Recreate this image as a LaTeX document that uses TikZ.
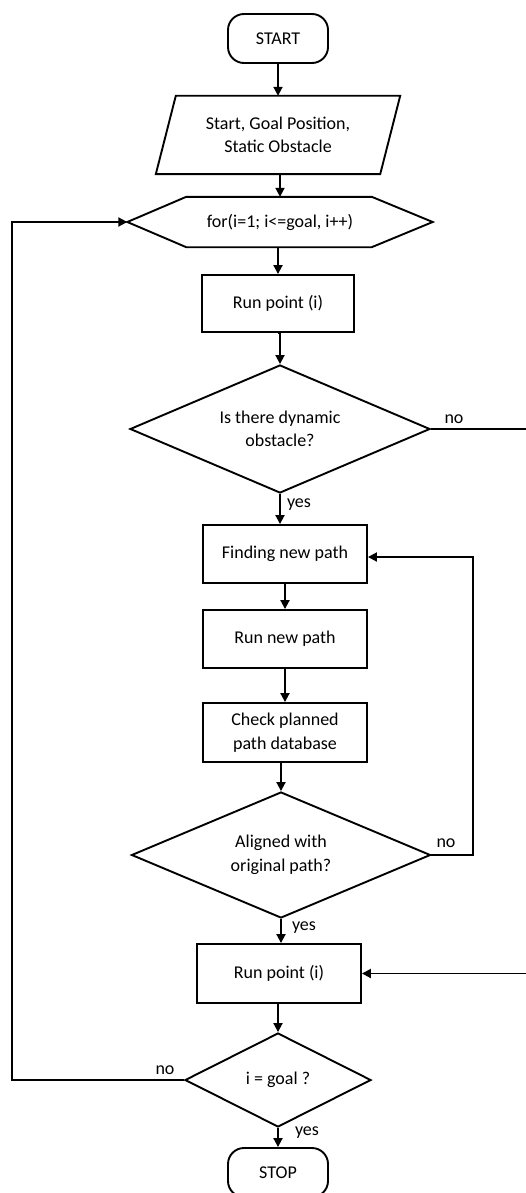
\documentclass[tikz,border=0pt]{standalone}
\usepackage{fontspec}
\setmainfont{Carlito}
\usetikzlibrary{arrows.meta,shapes.geometric}
\begin{document}
\begin{tikzpicture}[x=1pt,y=-1pt,
  every node/.style={font=\fontsize{18}{23.5}\selectfont, align=center, inner sep=0pt},
  ln/.style={line width=1.9pt, line join=miter},
  arr/.style={ln, -{Triangle[length=9pt,width=9pt]}},
  terminal/.style={ln, draw, rounded corners=16pt, minimum width=100pt, minimum height=49pt},
  procbox/.style={ln, draw, minimum height=58pt},
  decision/.style={ln, draw, diamond, aspect=2.34},
  lbl/.style={font=\fontsize{18}{20}\selectfont}
]
\useasboundingbox (0,0) rectangle (525,1193);

\node[terminal] (start) at (278,38.5) {START};
\node[minimum width=244pt, minimum height=78pt] (inp) at (278,135) {Start, Goal Position,\\Static Obstacle};
\draw[ln] (inp.south west) -- ([xshift=20pt]inp.north west) -- (inp.north east) -- ([xshift=-20pt]inp.south east) -- cycle;

\node[minimum width=305pt, minimum height=50pt] (hex) at (280,222) {for(i=1; i<=goal, i++)};
\draw[ln] (hex.west) -- ([xshift=59pt]hex.north west) -- ([xshift=-61pt]hex.north east) -- (hex.east)
  -- ([xshift=-61pt]hex.south east) -- ([xshift=59pt]hex.south west) -- cycle;

\node[procbox, minimum width=152pt, minimum height=57pt] (rp1) at (278,303.5) {Run point (i)};
\node[decision, minimum width=300pt, minimum height=128pt] (d1) at (280,429) {Is there dynamic\\obstacle?};
\node[procbox, minimum width=164pt] (fnp) at (285,554) {Finding new path};
\node[procbox, minimum width=164pt] (rnp) at (285,639) {Run new path};
\node[procbox, minimum width=164pt, minimum height=59pt] (chk) at (285,732.5) {Check planned\\path database};
\node[decision, minimum width=299pt, minimum height=126pt] (d2) at (281,855) {Aligned with\\original path?};
\node[procbox, minimum width=164pt, minimum height=59pt] (rp2) at (279,973.5) {Run point (i)};
\node[decision, aspect=2, minimum width=186pt, minimum height=94pt] (d3) at (278,1080) {i = goal ?};
\node[terminal] (stop) at (278,1172.5) {STOP};

\coordinate (xl) at (12,0);
\coordinate (xr1) at (532,0);
\coordinate (xr2) at (473,0);

\draw[arr] (start.south) -- (start.south |- inp.north);
\draw[arr] (inp.south -| hex.north) -- (hex.north);
\draw[arr] (hex.south -| rp1.north) -- (rp1.north);
\draw[arr] (rp1.south) -- (rp1.south -| d1.north) -- (d1.north);
\draw[arr] (d1.south) -- (d1.south |- fnp.north);
\draw[arr] (fnp.south) -- (rnp.north);
\draw[arr] (rnp.south) -- (chk.north -| rnp.south);
\draw[arr] (chk.south -| d2.north) -- (d2.north);
\draw[arr] (d2.south) -- (d2.south |- rp2.north);
\draw[arr] (rp2.south -| d3.north) -- (d3.north);
\draw[arr] (d3.south) -- (stop.north);

\draw[arr] (d1.east) -- (d1.east -| xr1) |- (rp2.east);
\draw[arr] (d2.east) -- (d2.east -| xr2) |- ([yshift=-3pt]fnp.east);
\draw[arr] (d3.west) -- (d3.west -| xl) |- (hex.west);

\node[lbl] (no1) at (454,419) {no};
\node[lbl] (yes1) at (299,505) {yes};
\node[lbl] (no2) at (446,843) {no};
\node[lbl] (yes2) at (304,928) {yes};
\node[lbl] (no3) at (165,1070) {no};
\node[lbl] (yes3) at (307,1133) {yes};
\end{tikzpicture}
\end{document}
